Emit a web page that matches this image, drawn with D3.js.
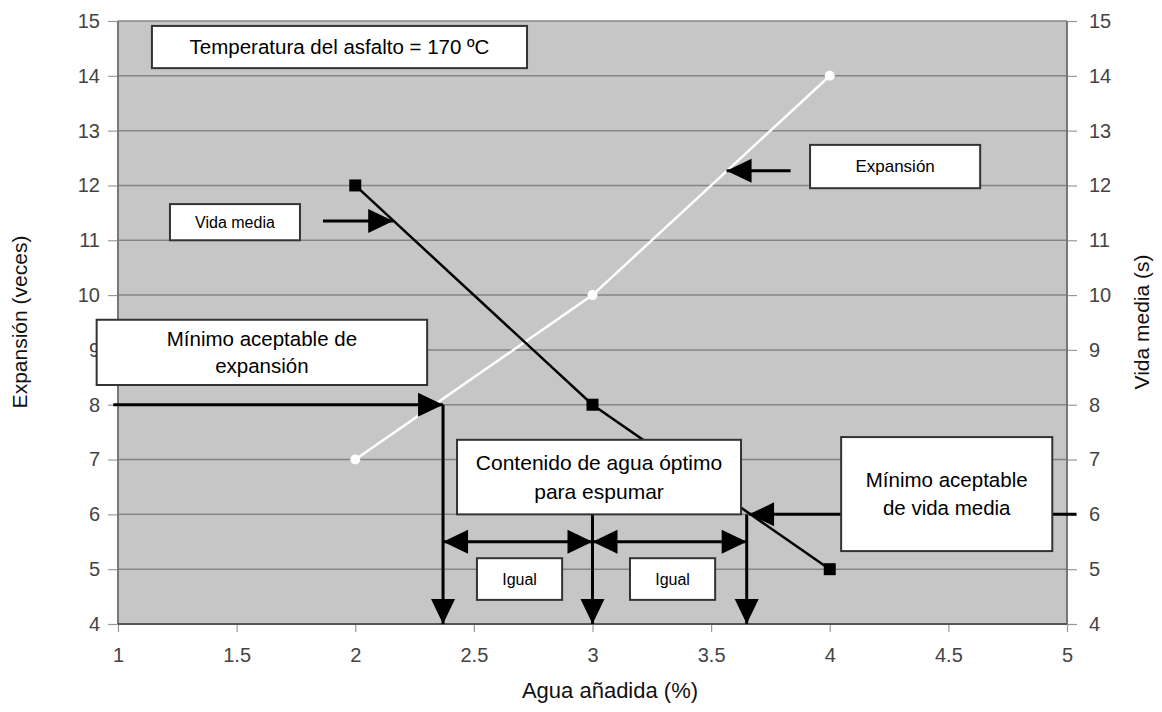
<!DOCTYPE html>
<html><head><meta charset="utf-8">
<script src="https://cdn.jsdelivr.net/npm/d3@7"></script>
<style>body{margin:0;background:#fff}svg{display:block;font-family:"Liberation Sans",Arial,sans-serif}</style>
</head><body><svg id="c" width="1162" height="712"></svg>
<script>
// Data
const water = [2, 3, 4];
const expansion = [7, 10, 14];
const halfLife = [12, 8, 5];
const xTicks = [1, 1.5, 2, 2.5, 3, 3.5, 4, 4.5, 5];
const yTicks = [4, 5, 6, 7, 8, 9, 10, 11, 12, 13, 14, 15];
const xTitle = "Agua añadida (%)";
const yLeftTitle = "Expansión (veces)";
const yRightTitle = "Vida media (s)";
// annotation boxes (data coords)
const boxes = [
  {x0: 1.143, x1: 2.724, y0: 14.91, y1: 14.14, lines: ["Temperatura del asfalto = 170 ºC"], fs: 20.5},
  {x0: 1.219, x1: 1.767, y0: 11.66, y1: 11.0, lines: ["Vida media"], fs: 16},
  {x0: 3.917, x1: 4.634, y0: 12.74, y1: 11.95, lines: ["Expansión"], fs: 17},
  {x0: 0.91, x1: 2.303, y0: 9.55, y1: 8.36, lines: ["Mínimo aceptable de", "expansión"], fs: 20.5},
  {x0: 2.429, x1: 3.626, y0: 7.36, y1: 6.0, lines: ["Contenido de agua óptimo", "para espumar"], fs: 21},
  {x0: 4.048, x1: 4.938, y0: 7.41, y1: 5.33, lines: ["Mínimo aceptable", "de vida media"], fs: 20.5},
  {x0: 2.513, x1: 2.872, y0: 5.2, y1: 4.44, lines: ["Igual"], fs: 16},
  {x0: 3.158, x1: 3.517, y0: 5.2, y1: 4.44, lines: ["Igual"], fs: 16}
];
// arrows: from (x1,y1) to (x2,y2); heads at end, optionally start
const arrows = [
  {x1: 0.98, y1: 8, x2: 2.37, y2: 8, start: false},
  {x1: 2.37, y1: 8, x2: 2.37, y2: 4, start: false},
  {x1: 3, y1: 6, x2: 3, y2: 4, start: false},
  {x1: 3.65, y1: 6, x2: 3.65, y2: 4, start: false},
  {x1: 5.04, y1: 6, x2: 3.66, y2: 6, start: false},
  {x1: 2.37, y1: 5.5, x2: 3, y2: 5.5, start: true},
  {x1: 3, y1: 5.5, x2: 3.65, y2: 5.5, start: true},
  {x1: 1.864, y1: 11.35, x2: 2.16, y2: 11.35, start: false},
  {x1: 3.835, y1: 12.27, x2: 3.565, y2: 12.27, start: false}
];

const svg = d3.select("#c");
const L = 118, R = 1067, T = 21, B = 624;
const x = d3.scaleLinear().domain([1, 5]).range([L, R]);
const y = d3.scaleLinear().domain([4, 15]).range([B, T]);

svg.append("rect").attr("x", L).attr("y", T).attr("width", R - L).attr("height", B - T).attr("fill", "#c6c6c6");

// gridlines
svg.append("g").selectAll("line").data(yTicks).join("line")
  .attr("x1", L).attr("x2", R).attr("y1", d => y(d)).attr("y2", d => y(d))
  .attr("stroke", "#858585").attr("stroke-width", 1.5);

// axes
const tickStyle = g => {
  g.select(".domain").remove();
  g.selectAll(".tick line").attr("stroke", "#999").attr("stroke-width", 1.2);
  g.selectAll(".tick text").attr("fill", "#444").attr("font-size", 20).attr("font-family", "Liberation Sans, Arial, sans-serif");
};
svg.append("g").attr("transform", `translate(${L},0)`)
  .call(d3.axisLeft(y).tickValues(yTicks).tickSize(10).tickPadding(8).tickFormat(d3.format("d"))).call(tickStyle);
svg.append("g").attr("transform", `translate(${R},0)`)
  .call(d3.axisRight(y).tickValues(yTicks).tickSize(10).tickPadding(12).tickFormat(d3.format("d"))).call(tickStyle);
svg.append("g").attr("transform", `translate(0,${B})`)
  .call(d3.axisBottom(x).tickValues(xTicks).tickSize(8).tickPadding(16).tickFormat(d => String(d))).call(tickStyle);

// plot borders
svg.append("line").attr("x1", L).attr("x2", L).attr("y1", T).attr("y2", B).attr("stroke", "#777").attr("stroke-width", 2);
svg.append("line").attr("x1", R).attr("x2", R).attr("y1", T).attr("y2", B).attr("stroke", "#777").attr("stroke-width", 2);
svg.append("line").attr("x1", L).attr("x2", R).attr("y1", B).attr("y2", B).attr("stroke", "#555").attr("stroke-width", 2);

// titles
svg.append("text").attr("x", 610).attr("y", 698).attr("text-anchor", "middle").attr("font-size", 22).attr("fill", "#111").text(xTitle);
svg.append("text").attr("transform", `translate(27,322) rotate(-90)`).attr("text-anchor", "middle").attr("font-size", 21).attr("fill", "#111").text(yLeftTitle);
svg.append("text").attr("transform", `translate(1149,322) rotate(-90)`).attr("text-anchor", "middle").attr("font-size", 21).attr("fill", "#111").text(yRightTitle);

// series
const line = d3.line().x(d => x(d[0])).y(d => y(d[1]));
const expPts = water.map((w, i) => [w, expansion[i]]);
const hlPts = water.map((w, i) => [w, halfLife[i]]);
svg.append("path").attr("d", line(expPts)).attr("fill", "none").attr("stroke", "#fff").attr("stroke-width", 2.5);
svg.append("g").selectAll("circle").data(expPts).join("circle")
  .attr("cx", d => x(d[0])).attr("cy", d => y(d[1])).attr("r", 5).attr("fill", "#fff");
svg.append("path").attr("d", line(hlPts)).attr("fill", "none").attr("stroke", "#000").attr("stroke-width", 2.5);
svg.append("g").selectAll("rect").data(hlPts).join("rect")
  .attr("x", d => x(d[0]) - 6).attr("y", d => y(d[1]) - 6).attr("width", 12).attr("height", 12).attr("fill", "#000");

// arrows
const HL = 25, HW = 12;
function head(px, py, dx, dy) {
  const len = Math.hypot(dx, dy), ux = dx / len, uy = dy / len;
  const bx = px - ux * HL, by = py - uy * HL;
  return [[px, py], [bx - uy * HW, by + ux * HW], [bx + uy * HW, by - ux * HW]];
}
const ag = svg.append("g");
arrows.forEach(a => {
  const X1 = x(a.x1), Y1 = y(a.y1), X2 = x(a.x2), Y2 = y(a.y2);
  ag.append("line").attr("x1", X1).attr("y1", Y1).attr("x2", X2).attr("y2", Y2).attr("stroke", "#000").attr("stroke-width", 3);
  ag.append("polygon").attr("points", head(X2, Y2, X2 - X1, Y2 - Y1).join(" ")).attr("fill", "#000");
  if (a.start) ag.append("polygon").attr("points", head(X1, Y1, X1 - X2, Y1 - Y2).join(" ")).attr("fill", "#000");
});

// boxes
const bg = svg.append("g");
boxes.forEach(b => {
  const X0 = x(b.x0), X1 = x(b.x1), Y0 = y(b.y0), Y1 = y(b.y1);
  bg.append("rect").attr("x", X0).attr("y", Y0).attr("width", X1 - X0).attr("height", Y1 - Y0)
    .attr("fill", "#fff").attr("stroke", "#333").attr("stroke-width", 2);
  const lh = b.fs * 1.35, n = b.lines.length;
  const cy = (Y0 + Y1) / 2 - (n - 1) * lh / 2;
  b.lines.forEach((t, i) => {
    bg.append("text").attr("x", (X0 + X1) / 2).attr("y", cy + i * lh).attr("dy", "0.35em")
      .attr("text-anchor", "middle").attr("font-size", b.fs).attr("fill", "#000").text(t);
  });
});
</script></body></html>
